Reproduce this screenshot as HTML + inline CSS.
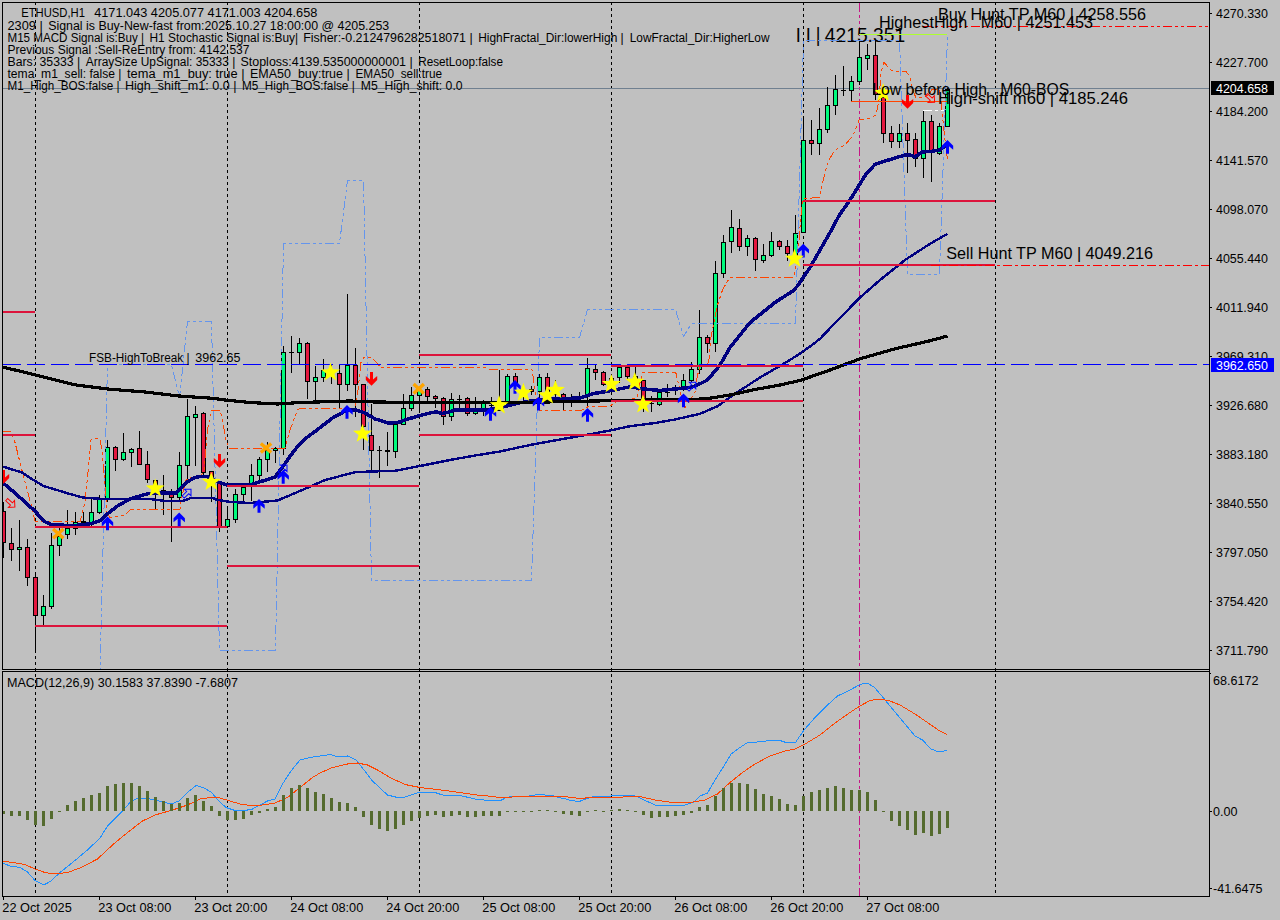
<!DOCTYPE html>
<html><head><meta charset="utf-8"><title>ETHUSD,H1</title>
<style>html,body{margin:0;padding:0;background:#C0C0C0;overflow:hidden}svg{display:block}text{font-family:"Liberation Sans",sans-serif;fill:#000}</style></head><body>
<svg width="1280" height="920" viewBox="0 0 1280 920">
<rect x="0" y="0" width="1280" height="920" fill="#C0C0C0"/>
<defs><clipPath id="cm"><rect x="3" y="3" width="1206" height="666"/></clipPath><clipPath id="cs"><rect x="3" y="672" width="1206" height="224"/></clipPath></defs>
<g clip-path="url(#cm)" shape-rendering="crispEdges">
<line x1="35.5" y1="2" x2="35.5" y2="669" stroke="#000" stroke-width="1" stroke-dasharray="3 3"/>
<line x1="227.5" y1="2" x2="227.5" y2="669" stroke="#000" stroke-width="1" stroke-dasharray="3 3"/>
<line x1="419.5" y1="2" x2="419.5" y2="669" stroke="#000" stroke-width="1" stroke-dasharray="3 3"/>
<line x1="611.5" y1="2" x2="611.5" y2="669" stroke="#000" stroke-width="1" stroke-dasharray="3 3"/>
<line x1="803.5" y1="2" x2="803.5" y2="669" stroke="#000" stroke-width="1" stroke-dasharray="3 3"/>
<line x1="995.5" y1="2" x2="995.5" y2="669" stroke="#000" stroke-width="1" stroke-dasharray="3 3"/>
<line x1="859.5" y1="3" x2="859.5" y2="669" stroke="#C71585" stroke-width="1" stroke-dasharray="9 3 3 3 3 3"/>
<line x1="3" y1="88.5" x2="1209" y2="88.5" stroke="#708090" stroke-width="1"/>
<rect x="3" y="502" width="1" height="56" fill="#000"/>
<rect x="1" y="511" width="5" height="32" fill="#000"/>
<rect x="2" y="512" width="3" height="30" fill="#E3183F"/>
<rect x="11" y="528" width="1" height="33" fill="#000"/>
<rect x="9" y="543" width="5" height="7" fill="#000"/>
<rect x="10" y="544" width="3" height="5" fill="#E3183F"/>
<rect x="19" y="520" width="1" height="51" fill="#000"/>
<rect x="17" y="547" width="5" height="3" fill="#000"/>
<rect x="18" y="548" width="3" height="1" fill="#00FA7D"/>
<rect x="27" y="539" width="1" height="47" fill="#000"/>
<rect x="25" y="547" width="5" height="31" fill="#000"/>
<rect x="26" y="548" width="3" height="29" fill="#E3183F"/>
<rect x="35" y="572" width="1" height="81" fill="#000"/>
<rect x="33" y="577" width="5" height="39" fill="#000"/>
<rect x="34" y="578" width="3" height="37" fill="#E3183F"/>
<rect x="43" y="595" width="1" height="31" fill="#000"/>
<rect x="41" y="606" width="5" height="10" fill="#000"/>
<rect x="42" y="607" width="3" height="8" fill="#00FA7D"/>
<rect x="51" y="533" width="1" height="76" fill="#000"/>
<rect x="49" y="545" width="5" height="62" fill="#000"/>
<rect x="50" y="546" width="3" height="60" fill="#00FA7D"/>
<rect x="59" y="527" width="1" height="29" fill="#000"/>
<rect x="57" y="536" width="5" height="10" fill="#000"/>
<rect x="58" y="537" width="3" height="8" fill="#00FA7D"/>
<rect x="67" y="510" width="1" height="29" fill="#000"/>
<rect x="65" y="528" width="5" height="7" fill="#000"/>
<rect x="66" y="529" width="3" height="5" fill="#00FA7D"/>
<rect x="75" y="512" width="1" height="23" fill="#000"/>
<rect x="73" y="522" width="5" height="7" fill="#000"/>
<rect x="74" y="523" width="3" height="5" fill="#00FA7D"/>
<rect x="83" y="512" width="1" height="14" fill="#000"/>
<rect x="81" y="521" width="5" height="2" fill="#000"/>
<rect x="91" y="499" width="1" height="27" fill="#000"/>
<rect x="89" y="512" width="5" height="11" fill="#000"/>
<rect x="90" y="513" width="3" height="9" fill="#00FA7D"/>
<rect x="99" y="495" width="1" height="19" fill="#000"/>
<rect x="97" y="498" width="5" height="15" fill="#000"/>
<rect x="98" y="499" width="3" height="13" fill="#00FA7D"/>
<rect x="107" y="440" width="1" height="62" fill="#000"/>
<rect x="105" y="447" width="5" height="52" fill="#000"/>
<rect x="106" y="448" width="3" height="50" fill="#00FA7D"/>
<rect x="115" y="446" width="1" height="25" fill="#000"/>
<rect x="113" y="447" width="5" height="13" fill="#000"/>
<rect x="114" y="448" width="3" height="11" fill="#E3183F"/>
<rect x="123" y="433" width="1" height="28" fill="#000"/>
<rect x="121" y="452" width="5" height="8" fill="#000"/>
<rect x="122" y="453" width="3" height="6" fill="#00FA7D"/>
<rect x="131" y="448" width="1" height="19" fill="#000"/>
<rect x="129" y="449" width="5" height="4" fill="#000"/>
<rect x="130" y="450" width="3" height="2" fill="#00FA7D"/>
<rect x="139" y="431" width="1" height="34" fill="#000"/>
<rect x="137" y="448" width="5" height="17" fill="#000"/>
<rect x="138" y="449" width="3" height="15" fill="#E3183F"/>
<rect x="147" y="451" width="1" height="32" fill="#000"/>
<rect x="145" y="464" width="5" height="16" fill="#000"/>
<rect x="146" y="465" width="3" height="14" fill="#E3183F"/>
<rect x="155" y="480" width="1" height="30" fill="#000"/>
<rect x="153" y="480" width="5" height="9" fill="#000"/>
<rect x="154" y="481" width="3" height="7" fill="#E3183F"/>
<rect x="163" y="475" width="1" height="40" fill="#000"/>
<rect x="161" y="490" width="5" height="5" fill="#000"/>
<rect x="162" y="491" width="3" height="3" fill="#E3183F"/>
<rect x="171" y="489" width="1" height="53" fill="#000"/>
<rect x="169" y="493" width="5" height="5" fill="#000"/>
<rect x="170" y="494" width="3" height="3" fill="#E3183F"/>
<rect x="179" y="452" width="1" height="50" fill="#000"/>
<rect x="177" y="465" width="5" height="33" fill="#000"/>
<rect x="178" y="466" width="3" height="31" fill="#00FA7D"/>
<rect x="187" y="399" width="1" height="81" fill="#000"/>
<rect x="185" y="416" width="5" height="50" fill="#000"/>
<rect x="186" y="417" width="3" height="48" fill="#00FA7D"/>
<rect x="195" y="406" width="1" height="60" fill="#000"/>
<rect x="193" y="414" width="5" height="4" fill="#000"/>
<rect x="194" y="415" width="3" height="2" fill="#00FA7D"/>
<rect x="203" y="412" width="1" height="66" fill="#000"/>
<rect x="201" y="413" width="5" height="60" fill="#000"/>
<rect x="202" y="414" width="3" height="58" fill="#E3183F"/>
<rect x="211" y="471" width="1" height="31" fill="#000"/>
<rect x="209" y="471" width="5" height="9" fill="#000"/>
<rect x="210" y="472" width="3" height="7" fill="#E3183F"/>
<rect x="219" y="483" width="1" height="49" fill="#000"/>
<rect x="217" y="483" width="5" height="44" fill="#000"/>
<rect x="218" y="484" width="3" height="42" fill="#E3183F"/>
<rect x="227" y="506" width="1" height="22" fill="#000"/>
<rect x="225" y="519" width="5" height="8" fill="#000"/>
<rect x="226" y="520" width="3" height="6" fill="#00FA7D"/>
<rect x="235" y="489" width="1" height="34" fill="#000"/>
<rect x="233" y="494" width="5" height="26" fill="#000"/>
<rect x="234" y="495" width="3" height="24" fill="#00FA7D"/>
<rect x="243" y="484" width="1" height="17" fill="#000"/>
<rect x="241" y="487" width="5" height="8" fill="#000"/>
<rect x="242" y="488" width="3" height="6" fill="#00FA7D"/>
<rect x="251" y="464" width="1" height="37" fill="#000"/>
<rect x="249" y="475" width="5" height="10" fill="#000"/>
<rect x="250" y="476" width="3" height="8" fill="#00FA7D"/>
<rect x="259" y="457" width="1" height="25" fill="#000"/>
<rect x="257" y="459" width="5" height="17" fill="#000"/>
<rect x="258" y="460" width="3" height="15" fill="#00FA7D"/>
<rect x="267" y="442" width="1" height="30" fill="#000"/>
<rect x="265" y="450" width="5" height="10" fill="#000"/>
<rect x="266" y="451" width="3" height="8" fill="#00FA7D"/>
<rect x="275" y="447" width="1" height="16" fill="#000"/>
<rect x="273" y="448" width="5" height="3" fill="#000"/>
<rect x="274" y="449" width="3" height="1" fill="#00FA7D"/>
<rect x="283" y="346" width="1" height="109" fill="#000"/>
<rect x="281" y="352" width="5" height="97" fill="#000"/>
<rect x="282" y="353" width="3" height="95" fill="#00FA7D"/>
<rect x="291" y="336" width="1" height="37" fill="#000"/>
<rect x="289" y="352" width="5" height="1" fill="#000"/>
<rect x="299" y="338" width="1" height="27" fill="#000"/>
<rect x="297" y="343" width="5" height="10" fill="#000"/>
<rect x="298" y="344" width="3" height="8" fill="#00FA7D"/>
<rect x="307" y="342" width="1" height="57" fill="#000"/>
<rect x="305" y="343" width="5" height="39" fill="#000"/>
<rect x="306" y="344" width="3" height="37" fill="#E3183F"/>
<rect x="315" y="366" width="1" height="36" fill="#000"/>
<rect x="313" y="377" width="5" height="5" fill="#000"/>
<rect x="314" y="378" width="3" height="3" fill="#00FA7D"/>
<rect x="323" y="359" width="1" height="23" fill="#000"/>
<rect x="321" y="370" width="5" height="8" fill="#000"/>
<rect x="322" y="371" width="3" height="6" fill="#00FA7D"/>
<rect x="331" y="365" width="1" height="19" fill="#000"/>
<rect x="329" y="372" width="5" height="2" fill="#000"/>
<rect x="339" y="364" width="1" height="45" fill="#000"/>
<rect x="337" y="373" width="5" height="12" fill="#000"/>
<rect x="338" y="374" width="3" height="10" fill="#E3183F"/>
<rect x="347" y="294" width="1" height="97" fill="#000"/>
<rect x="345" y="365" width="5" height="20" fill="#000"/>
<rect x="346" y="366" width="3" height="18" fill="#00FA7D"/>
<rect x="355" y="348" width="1" height="69" fill="#000"/>
<rect x="353" y="365" width="5" height="20" fill="#000"/>
<rect x="354" y="366" width="3" height="18" fill="#E3183F"/>
<rect x="363" y="384" width="1" height="66" fill="#000"/>
<rect x="361" y="384" width="5" height="43" fill="#000"/>
<rect x="362" y="385" width="3" height="41" fill="#E3183F"/>
<rect x="371" y="404" width="1" height="66" fill="#000"/>
<rect x="369" y="435" width="5" height="16" fill="#000"/>
<rect x="370" y="436" width="3" height="14" fill="#E3183F"/>
<rect x="379" y="446" width="1" height="32" fill="#000"/>
<rect x="377" y="450" width="5" height="1" fill="#000"/>
<rect x="387" y="432" width="1" height="34" fill="#000"/>
<rect x="385" y="450" width="5" height="2" fill="#000"/>
<rect x="395" y="424" width="1" height="34" fill="#000"/>
<rect x="393" y="424" width="5" height="28" fill="#000"/>
<rect x="394" y="425" width="3" height="26" fill="#00FA7D"/>
<rect x="403" y="394" width="1" height="31" fill="#000"/>
<rect x="401" y="408" width="5" height="17" fill="#000"/>
<rect x="402" y="409" width="3" height="15" fill="#00FA7D"/>
<rect x="411" y="387" width="1" height="24" fill="#000"/>
<rect x="409" y="395" width="5" height="14" fill="#000"/>
<rect x="410" y="396" width="3" height="12" fill="#00FA7D"/>
<rect x="419" y="386" width="1" height="25" fill="#000"/>
<rect x="417" y="390" width="5" height="6" fill="#000"/>
<rect x="418" y="391" width="3" height="4" fill="#00FA7D"/>
<rect x="427" y="387" width="1" height="15" fill="#000"/>
<rect x="425" y="389" width="5" height="8" fill="#000"/>
<rect x="426" y="390" width="3" height="6" fill="#E3183F"/>
<rect x="435" y="395" width="1" height="13" fill="#000"/>
<rect x="433" y="396" width="5" height="3" fill="#000"/>
<rect x="434" y="397" width="3" height="1" fill="#E3183F"/>
<rect x="443" y="397" width="1" height="28" fill="#000"/>
<rect x="441" y="398" width="5" height="19" fill="#000"/>
<rect x="442" y="399" width="3" height="17" fill="#E3183F"/>
<rect x="451" y="393" width="1" height="28" fill="#000"/>
<rect x="449" y="399" width="5" height="18" fill="#000"/>
<rect x="450" y="400" width="3" height="16" fill="#00FA7D"/>
<rect x="459" y="395" width="1" height="13" fill="#000"/>
<rect x="457" y="399" width="5" height="1" fill="#000"/>
<rect x="467" y="397" width="1" height="19" fill="#000"/>
<rect x="465" y="398" width="5" height="16" fill="#000"/>
<rect x="466" y="399" width="3" height="14" fill="#E3183F"/>
<rect x="475" y="397" width="1" height="18" fill="#000"/>
<rect x="473" y="411" width="5" height="3" fill="#000"/>
<rect x="474" y="412" width="3" height="1" fill="#00FA7D"/>
<rect x="483" y="400" width="1" height="16" fill="#000"/>
<rect x="481" y="403" width="5" height="7" fill="#000"/>
<rect x="482" y="404" width="3" height="5" fill="#00FA7D"/>
<rect x="491" y="397" width="1" height="14" fill="#000"/>
<rect x="489" y="405" width="5" height="1" fill="#000"/>
<rect x="499" y="370" width="1" height="41" fill="#000"/>
<rect x="497" y="401" width="5" height="10" fill="#000"/>
<rect x="498" y="402" width="3" height="8" fill="#00FA7D"/>
<rect x="507" y="374" width="1" height="28" fill="#000"/>
<rect x="505" y="376" width="5" height="26" fill="#000"/>
<rect x="506" y="377" width="3" height="24" fill="#00FA7D"/>
<rect x="515" y="373" width="1" height="18" fill="#000"/>
<rect x="513" y="376" width="5" height="8" fill="#000"/>
<rect x="514" y="377" width="3" height="6" fill="#E3183F"/>
<rect x="523" y="384" width="1" height="18" fill="#000"/>
<rect x="521" y="390" width="5" height="3" fill="#000"/>
<rect x="522" y="391" width="3" height="1" fill="#E3183F"/>
<rect x="531" y="386" width="1" height="9" fill="#000"/>
<rect x="529" y="389" width="5" height="3" fill="#000"/>
<rect x="530" y="390" width="3" height="1" fill="#E3183F"/>
<rect x="539" y="374" width="1" height="37" fill="#000"/>
<rect x="537" y="377" width="5" height="15" fill="#000"/>
<rect x="538" y="378" width="3" height="13" fill="#00FA7D"/>
<rect x="547" y="373" width="1" height="28" fill="#000"/>
<rect x="545" y="377" width="5" height="15" fill="#000"/>
<rect x="546" y="378" width="3" height="13" fill="#E3183F"/>
<rect x="555" y="380" width="1" height="21" fill="#000"/>
<rect x="553" y="391" width="5" height="4" fill="#000"/>
<rect x="554" y="392" width="3" height="2" fill="#E3183F"/>
<rect x="563" y="393" width="1" height="17" fill="#000"/>
<rect x="561" y="394" width="5" height="6" fill="#000"/>
<rect x="562" y="395" width="3" height="4" fill="#E3183F"/>
<rect x="571" y="394" width="1" height="13" fill="#000"/>
<rect x="569" y="399" width="5" height="1" fill="#000"/>
<rect x="579" y="392" width="1" height="9" fill="#000"/>
<rect x="577" y="398" width="5" height="1" fill="#000"/>
<rect x="587" y="358" width="1" height="48" fill="#000"/>
<rect x="585" y="368" width="5" height="27" fill="#000"/>
<rect x="586" y="369" width="3" height="25" fill="#00FA7D"/>
<rect x="595" y="364" width="1" height="16" fill="#000"/>
<rect x="593" y="369" width="5" height="4" fill="#000"/>
<rect x="594" y="370" width="3" height="2" fill="#E3183F"/>
<rect x="603" y="371" width="1" height="15" fill="#000"/>
<rect x="601" y="372" width="5" height="13" fill="#000"/>
<rect x="602" y="373" width="3" height="11" fill="#E3183F"/>
<rect x="611" y="375" width="1" height="18" fill="#000"/>
<rect x="609" y="378" width="5" height="7" fill="#000"/>
<rect x="610" y="379" width="3" height="5" fill="#00FA7D"/>
<rect x="619" y="366" width="1" height="17" fill="#000"/>
<rect x="617" y="367" width="5" height="11" fill="#000"/>
<rect x="618" y="368" width="3" height="9" fill="#00FA7D"/>
<rect x="627" y="366" width="1" height="13" fill="#000"/>
<rect x="625" y="367" width="5" height="10" fill="#000"/>
<rect x="626" y="368" width="3" height="8" fill="#E3183F"/>
<rect x="635" y="367" width="1" height="19" fill="#000"/>
<rect x="633" y="376" width="5" height="5" fill="#000"/>
<rect x="634" y="377" width="3" height="3" fill="#E3183F"/>
<rect x="643" y="380" width="1" height="32" fill="#000"/>
<rect x="641" y="380" width="5" height="21" fill="#000"/>
<rect x="642" y="381" width="3" height="19" fill="#E3183F"/>
<rect x="651" y="396" width="1" height="16" fill="#000"/>
<rect x="649" y="403" width="5" height="1" fill="#000"/>
<rect x="659" y="391" width="1" height="15" fill="#000"/>
<rect x="657" y="392" width="5" height="13" fill="#000"/>
<rect x="658" y="393" width="3" height="11" fill="#00FA7D"/>
<rect x="667" y="384" width="1" height="13" fill="#000"/>
<rect x="665" y="392" width="5" height="1" fill="#000"/>
<rect x="675" y="385" width="1" height="10" fill="#000"/>
<rect x="673" y="389" width="5" height="1" fill="#000"/>
<rect x="683" y="374" width="1" height="17" fill="#000"/>
<rect x="681" y="380" width="5" height="9" fill="#000"/>
<rect x="682" y="381" width="3" height="7" fill="#00FA7D"/>
<rect x="691" y="362" width="1" height="20" fill="#000"/>
<rect x="689" y="369" width="5" height="12" fill="#000"/>
<rect x="690" y="370" width="3" height="10" fill="#00FA7D"/>
<rect x="699" y="310" width="1" height="64" fill="#000"/>
<rect x="697" y="337" width="5" height="33" fill="#000"/>
<rect x="698" y="338" width="3" height="31" fill="#00FA7D"/>
<rect x="707" y="335" width="1" height="18" fill="#000"/>
<rect x="705" y="337" width="5" height="7" fill="#000"/>
<rect x="706" y="338" width="3" height="5" fill="#E3183F"/>
<rect x="715" y="261" width="1" height="91" fill="#000"/>
<rect x="713" y="273" width="5" height="71" fill="#000"/>
<rect x="714" y="274" width="3" height="69" fill="#00FA7D"/>
<rect x="723" y="235" width="1" height="43" fill="#000"/>
<rect x="721" y="242" width="5" height="32" fill="#000"/>
<rect x="722" y="243" width="3" height="30" fill="#00FA7D"/>
<rect x="731" y="210" width="1" height="43" fill="#000"/>
<rect x="729" y="227" width="5" height="15" fill="#000"/>
<rect x="730" y="228" width="3" height="13" fill="#00FA7D"/>
<rect x="739" y="219" width="1" height="32" fill="#000"/>
<rect x="737" y="228" width="5" height="19" fill="#000"/>
<rect x="738" y="229" width="3" height="17" fill="#E3183F"/>
<rect x="747" y="235" width="1" height="21" fill="#000"/>
<rect x="745" y="238" width="5" height="9" fill="#000"/>
<rect x="746" y="239" width="3" height="7" fill="#00FA7D"/>
<rect x="755" y="237" width="1" height="34" fill="#000"/>
<rect x="753" y="238" width="5" height="22" fill="#000"/>
<rect x="754" y="239" width="3" height="20" fill="#E3183F"/>
<rect x="763" y="244" width="1" height="19" fill="#000"/>
<rect x="761" y="255" width="5" height="6" fill="#000"/>
<rect x="762" y="256" width="3" height="4" fill="#00FA7D"/>
<rect x="771" y="232" width="1" height="25" fill="#000"/>
<rect x="769" y="241" width="5" height="15" fill="#000"/>
<rect x="770" y="242" width="3" height="13" fill="#00FA7D"/>
<rect x="779" y="240" width="1" height="10" fill="#000"/>
<rect x="777" y="241" width="5" height="6" fill="#000"/>
<rect x="778" y="242" width="3" height="4" fill="#E3183F"/>
<rect x="787" y="240" width="1" height="21" fill="#000"/>
<rect x="785" y="246" width="5" height="8" fill="#000"/>
<rect x="786" y="247" width="3" height="6" fill="#E3183F"/>
<rect x="795" y="215" width="1" height="48" fill="#000"/>
<rect x="793" y="233" width="5" height="25" fill="#000"/>
<rect x="794" y="234" width="3" height="23" fill="#00FA7D"/>
<rect x="803" y="116" width="1" height="117" fill="#000"/>
<rect x="801" y="140" width="5" height="93" fill="#000"/>
<rect x="802" y="141" width="3" height="91" fill="#00FA7D"/>
<rect x="811" y="120" width="1" height="35" fill="#000"/>
<rect x="809" y="140" width="5" height="4" fill="#000"/>
<rect x="810" y="141" width="3" height="2" fill="#E3183F"/>
<rect x="819" y="108" width="1" height="47" fill="#000"/>
<rect x="817" y="129" width="5" height="15" fill="#000"/>
<rect x="818" y="130" width="3" height="13" fill="#00FA7D"/>
<rect x="827" y="87" width="1" height="46" fill="#000"/>
<rect x="825" y="105" width="5" height="25" fill="#000"/>
<rect x="826" y="106" width="3" height="23" fill="#00FA7D"/>
<rect x="835" y="75" width="1" height="40" fill="#000"/>
<rect x="833" y="89" width="5" height="17" fill="#000"/>
<rect x="834" y="90" width="3" height="15" fill="#00FA7D"/>
<rect x="843" y="66" width="1" height="30" fill="#000"/>
<rect x="841" y="90" width="5" height="1" fill="#000"/>
<rect x="851" y="76" width="1" height="26" fill="#000"/>
<rect x="849" y="81" width="5" height="10" fill="#000"/>
<rect x="850" y="82" width="3" height="8" fill="#00FA7D"/>
<rect x="859" y="41" width="1" height="44" fill="#000"/>
<rect x="857" y="57" width="5" height="25" fill="#000"/>
<rect x="858" y="58" width="3" height="23" fill="#00FA7D"/>
<rect x="867" y="44" width="1" height="26" fill="#000"/>
<rect x="865" y="55" width="5" height="4" fill="#000"/>
<rect x="866" y="56" width="3" height="2" fill="#00FA7D"/>
<rect x="875" y="41" width="1" height="59" fill="#000"/>
<rect x="873" y="55" width="5" height="40" fill="#000"/>
<rect x="874" y="56" width="3" height="38" fill="#E3183F"/>
<rect x="883" y="96" width="1" height="47" fill="#000"/>
<rect x="881" y="97" width="5" height="37" fill="#000"/>
<rect x="882" y="98" width="3" height="35" fill="#E3183F"/>
<rect x="891" y="126" width="1" height="22" fill="#000"/>
<rect x="889" y="133" width="5" height="9" fill="#000"/>
<rect x="890" y="134" width="3" height="7" fill="#E3183F"/>
<rect x="899" y="124" width="1" height="24" fill="#000"/>
<rect x="897" y="133" width="5" height="9" fill="#000"/>
<rect x="898" y="134" width="3" height="7" fill="#00FA7D"/>
<rect x="907" y="123" width="1" height="50" fill="#000"/>
<rect x="905" y="133" width="5" height="8" fill="#000"/>
<rect x="906" y="134" width="3" height="6" fill="#E3183F"/>
<rect x="915" y="133" width="1" height="34" fill="#000"/>
<rect x="913" y="139" width="5" height="20" fill="#000"/>
<rect x="914" y="140" width="3" height="18" fill="#E3183F"/>
<rect x="923" y="111" width="1" height="67" fill="#000"/>
<rect x="921" y="121" width="5" height="38" fill="#000"/>
<rect x="922" y="122" width="3" height="36" fill="#00FA7D"/>
<rect x="931" y="115" width="1" height="67" fill="#000"/>
<rect x="929" y="121" width="5" height="32" fill="#000"/>
<rect x="930" y="122" width="3" height="30" fill="#E3183F"/>
<rect x="939" y="123" width="1" height="32" fill="#000"/>
<rect x="937" y="126" width="5" height="28" fill="#000"/>
<rect x="938" y="127" width="3" height="26" fill="#00FA7D"/>
<rect x="947" y="88" width="1" height="39" fill="#000"/>
<rect x="945" y="89" width="5" height="38" fill="#000"/>
<rect x="946" y="90" width="3" height="36" fill="#00FA7D"/>
</g><g clip-path="url(#cm)">
<text xml:space="preserve" x="795.7" y="42.0" font-size="20.5" textLength="24.8" lengthAdjust="spacingAndGlyphs">I I |</text>
<text xml:space="preserve" x="824.8" y="42.0" font-size="20.5" textLength="80.3" lengthAdjust="spacingAndGlyphs">4215.351</text>
</g><g clip-path="url(#cm)" shape-rendering="crispEdges">
<polyline fill="none" stroke="#6495ED" stroke-width="1" stroke-dasharray="9 3 3 3 3 3" points="91.5,692.5 99.5,692.5 107.5,364.5 115.5,364.5 123.5,364.5 131.5,364.5 139.5,364.5 147.5,364.5 155.5,364.5 163.5,364.5 171.5,364.5 179.5,397.5 187.5,321.5 195.5,321.5 203.5,321.5 211.5,321.5 219.5,650.5 227.5,650.5 235.5,650.5 243.5,650.5 251.5,650.5 259.5,650.5 267.5,650.5 275.5,650.5 283.5,243.5 291.5,243.5 299.5,243.5 307.5,243.5 315.5,243.5 323.5,243.5 331.5,243.5 339.5,243.5 347.5,180.5 355.5,180.5 363.5,180.5 371.5,580.5 379.5,580.5 387.5,580.5 395.5,580.5 403.5,580.5 411.5,580.5 419.5,580.5 427.5,580.5 435.5,580.5 443.5,580.5 451.5,580.5 459.5,580.5 467.5,580.5 475.5,580.5 483.5,580.5 491.5,580.5 499.5,580.5 507.5,580.5 515.5,580.5 523.5,580.5 531.5,580.5 539.5,337.5 547.5,337.5 555.5,337.5 563.5,337.5 571.5,337.5 579.5,337.5 587.5,309.5 595.5,309.5 603.5,309.5 611.5,309.5 619.5,309.5 627.5,309.5 635.5,309.5 643.5,309.5 651.5,309.5 659.5,309.5 667.5,309.5 675.5,309.5 683.5,336.5 691.5,323.5 699.5,323.5 707.5,323.5 715.5,323.5 723.5,323.5 731.5,323.5 739.5,323.5 747.5,323.5 755.5,323.5 763.5,323.5 771.5,323.5 779.5,323.5 787.5,323.5 795.5,323.5 803.5,40.5 811.5,40.5 819.5,40.5 827.5,40.5 835.5,40.5 843.5,40.5 851.5,40.5 859.5,40.5 867.5,40.5 875.5,40.5 883.5,40.5 891.5,40.5 899.5,40.5 907.5,274.5 915.5,274.5 923.5,274.5 931.5,274.5 939.5,274.5 947.5,35.5"/>
<polyline fill="none" stroke="#FF4500" stroke-width="1" stroke-dasharray="9 3 3 3 3 3" points="2.5,431.0 11.0,431.0 15.0,442.5 22.5,472.5 32.5,510.0 35.0,521.0 80.0,522.0 85.0,502.5 87.5,477.5 91.0,440.0 92.5,438.8 100.0,438.8 102.5,455.0 106.0,497.5 107.0,513.0 110.0,517.5 125.0,515.0 130.0,510.0 160.0,509.0 180.0,509.0 181.0,500.0 186.0,480.0 190.0,477.5 200.0,477.5 204.0,470.0 207.5,430.0 211.0,411.0 220.0,410.0 222.5,420.0 226.0,440.0 229.0,448.0 285.0,448.0 290.0,430.0 297.5,410.0 300.0,408.5 355.0,408.5 357.5,395.0 361.0,362.5 364.0,357.5 372.5,358.0 379.0,365.5 380.0,367.5 485.0,367.5 490.0,369.5 532.0,369.5 534.0,382.5 536.0,395.0 540.0,410.5 580.0,411.0 587.5,407.0 610.0,406.0 617.5,401.0 637.5,397.5 640.0,382.5 642.5,373.0 644.0,372.5 675.8,372.5 677.5,380.0 680.0,390.0 684.0,409.0 690.0,400.0 695.0,392.5 697.5,375.0 700.0,367.5 707.5,365.5 709.0,359.0 711.0,337.5 714.0,322.5 717.5,305.0 722.5,290.0 727.5,281.0 731.0,277.5 794.0,277.5 795.5,270.0 799.0,240.0 801.0,215.0 802.5,200.0 805.0,198.5 819.0,197.5 821.0,190.0 825.0,172.5 829.0,160.0 835.0,150.0 845.0,145.0 852.5,136.0 857.5,125.0 859.0,120.0 870.0,118.0 876.0,115.0 879.0,100.0 881.0,72.5 884.0,62.5 890.0,69.0 892.5,71.0 906.0,71.3 909.8,76.5 911.0,82.4 914.0,92.8 915.7,97.4 919.6,97.4 924.0,97.0 928.7,94.8 932.0,89.6 939.1,89.6 939.8,91.5 941.1,102.6 942.4,115.0 943.7,128.0 945.0,140.0 947.5,160.0"/>
<polyline fill="none" stroke="#000080" stroke-width="2.4" stroke-linejoin="round" points="2.5,466.5 21.7,472.4 35.0,481.0 43.5,486.0 60.0,491.0 70.0,494.0 82.5,497.5 100.0,498.8 130.0,498.8 147.6,498.8 162.8,500.7 182.6,501.1 191.7,497.7 212.3,497.7 216.0,499.6 229.8,501.9 250.0,503.0 277.5,500.5 300.0,491.0 325.0,480.0 356.0,472.0 395.0,470.8 425.0,465.0 450.0,460.0 475.0,455.5 500.0,451.5 530.0,445.0 560.0,439.5 592.5,433.8 610.0,430.5 630.0,426.2 655.0,423.0 675.0,419.5 700.0,413.8 717.5,406.2 735.0,393.8 760.0,377.5 790.0,360.0 800.0,353.5 810.0,346.5 820.0,338.8 835.0,323.0 860.0,297.5 880.0,280.0 905.0,260.0 930.0,243.8 947.5,233.8"/>
<polyline fill="none" stroke="#000080" stroke-width="3.5" stroke-linejoin="round" points="2.5,482.5 15.0,493.0 25.0,502.0 34.8,511.0 44.3,521.5 52.5,525.0 75.0,525.5 90.0,523.8 100.0,520.8 107.5,513.8 117.5,506.0 130.0,498.8 147.5,493.8 160.0,493.0 176.5,493.0 185.7,482.8 194.8,477.5 200.9,476.4 207.0,476.4 212.0,478.5 217.6,482.0 227.5,485.0 250.0,485.0 275.0,477.0 284.0,465.0 291.0,455.0 298.8,444.8 306.8,437.5 316.3,430.5 322.0,426.0 332.6,418.0 347.3,409.9 355.4,409.9 365.2,413.2 375.0,418.9 388.0,422.9 397.8,422.6 409.8,418.5 419.6,415.6 429.4,413.1 436.2,411.8 442.1,413.4 448.9,412.1 455.8,409.9 468.5,409.9 486.1,409.9 493.9,408.7 505.7,406.3 520.0,402.8 530.0,401.0 555.0,398.8 580.0,398.0 592.5,393.8 610.0,390.8 630.0,386.8 642.5,388.8 660.0,390.5 675.0,389.0 690.0,387.5 695.0,386.2 707.5,380.0 720.0,365.0 730.0,347.5 750.0,322.5 775.0,302.5 792.5,291.2 797.5,286.0 810.0,267.5 830.0,232.5 839.4,215.0 850.0,200.0 860.0,183.8 866.2,173.8 875.0,164.4 882.5,161.9 895.0,158.0 905.0,155.0 910.0,155.0 915.0,156.9 922.5,151.9 932.5,151.2 940.0,150.0 945.0,146.0 947.5,145.0"/>
<polyline fill="none" stroke="#000" stroke-width="3.2" stroke-linejoin="round" points="2.5,367.0 35.0,374.8 75.0,384.8 107.5,389.0 145.0,392.0 179.0,396.0 212.5,398.3 227.5,400.3 250.0,402.5 277.5,404.0 300.0,402.5 350.0,401.0 375.0,402.0 425.0,402.5 520.0,402.5 605.0,400.8 705.0,399.0 730.0,395.0 755.0,389.5 780.0,385.0 800.0,380.5 830.0,370.0 860.0,358.8 895.0,348.8 930.0,340.8 947.5,336.0"/>
<rect x="3" y="311" width="32" height="2" fill="#DC143C"/>
<rect x="3" y="434" width="32" height="2" fill="#DC143C"/>
<rect x="35" y="526" width="192" height="2" fill="#DC143C"/>
<rect x="35" y="625" width="192" height="2" fill="#DC143C"/>
<rect x="227" y="485" width="192" height="2" fill="#DC143C"/>
<rect x="227" y="565" width="192" height="2" fill="#DC143C"/>
<rect x="419" y="354" width="192" height="2" fill="#DC143C"/>
<rect x="419" y="434" width="192" height="2" fill="#DC143C"/>
<rect x="611" y="365" width="192" height="2" fill="#DC143C"/>
<rect x="611" y="400" width="192" height="2" fill="#DC143C"/>
<rect x="803" y="200" width="192" height="2" fill="#DC143C"/>
<rect x="803" y="264" width="192" height="2" fill="#DC143C"/>
<line x1="3" y1="364.5" x2="1209" y2="364.5" stroke="#0000FF" stroke-width="1" stroke-dasharray="18 6"/>
<line x1="923" y1="26.5" x2="1209" y2="26.5" stroke="#FF0000" stroke-width="1" stroke-dasharray="9 3 3 3 3 3"/>
<line x1="931" y1="265.5" x2="1209" y2="265.5" stroke="#FF0000" stroke-width="1" stroke-dasharray="9 3 3 3"/>
<line x1="859" y1="34.5" x2="947" y2="34.5" stroke="#ADFF2F" stroke-width="1"/>
<line x1="851" y1="101.5" x2="947" y2="101.5" stroke="#FF4500" stroke-width="1"/>
<line x1="923" y1="110.5" x2="944" y2="110.5" stroke="#FFFFFF" stroke-width="1" stroke-dasharray="9 3 3 3 3 3"/>
</g>
<g clip-path="url(#cm)">
<path d="M53.1 529.1 L63.5 538.3 M63.5 529.1 L53.1 538.3" stroke="#FFA500" stroke-width="3.4" stroke-linecap="butt" fill="none"/>
<path d="M260.8 443.4 L271.2 452.6 M271.2 443.4 L260.8 452.6" stroke="#FFA500" stroke-width="3.4" stroke-linecap="butt" fill="none"/>
<path d="M413.6 384.1 L423.9 393.4 M423.9 384.1 L413.6 393.4" stroke="#FFA500" stroke-width="3.4" stroke-linecap="butt" fill="none"/>
<g transform="translate(14.9 507.0) rotate(42)"><path d="M-11.00 -1.50 L-4.60 -1.50 L-4.60 -4.60 L0 0 L-4.60 4.60 L-4.60 1.50 L-11.00 1.50 Z" fill="none" stroke="#FF0000" stroke-width="1"/></g>
<g transform="translate(191.0 489.3) rotate(-45)"><path d="M-11.00 -1.50 L-4.60 -1.50 L-4.60 -4.60 L0 0 L-4.60 4.60 L-4.60 1.50 L-11.00 1.50 Z" fill="none" stroke="#0000FF" stroke-width="1"/></g>
<g transform="translate(287.0 465.0) rotate(-45)"><path d="M-11.00 -1.50 L-4.60 -1.50 L-4.60 -4.60 L0 0 L-4.60 4.60 L-4.60 1.50 L-11.00 1.50 Z" fill="none" stroke="#0000FF" stroke-width="1"/></g>
<g transform="translate(695.8 382.3) rotate(-45)"><path d="M-11.00 -1.50 L-4.60 -1.50 L-4.60 -4.60 L0 0 L-4.60 4.60 L-4.60 1.50 L-11.00 1.50 Z" fill="none" stroke="#0000FF" stroke-width="1"/></g>
<g transform="translate(934.6 102.2) rotate(42)"><path d="M-11.00 -1.50 L-4.60 -1.50 L-4.60 -4.60 L0 0 L-4.60 4.60 L-4.60 1.50 L-11.00 1.50 Z" fill="none" stroke="#FF0000" stroke-width="1"/></g>
<polygon points="106.0,530.2 109.0,530.2 109.0,522.7 113.2,526.2 113.2,522.2 107.5,516.5 101.8,522.2 101.8,526.2 106.0,522.7" fill="#0000FF"/>
<polygon points="177.7,526.2 180.7,526.2 180.7,518.7 184.9,522.2 184.9,518.2 179.2,512.5 173.5,518.2 173.5,522.2 177.7,518.7" fill="#0000FF"/>
<polygon points="257.5,512.7 260.5,512.7 260.5,505.2 264.7,508.7 264.7,504.7 259.0,499.0 253.3,504.7 253.3,508.7 257.5,505.2" fill="#0000FF"/>
<polygon points="281.7,483.7 284.7,483.7 284.7,476.2 288.9,479.7 288.9,475.7 283.2,470.0 277.5,475.7 277.5,479.7 281.7,476.2" fill="#0000FF"/>
<polygon points="345.5,418.7 348.5,418.7 348.5,411.2 352.7,414.7 352.7,410.7 347.0,405.0 341.3,410.7 341.3,414.7 345.5,411.2" fill="#0000FF"/>
<polygon points="489.0,420.7 492.0,420.7 492.0,413.2 496.2,416.7 496.2,412.7 490.5,407.0 484.8,412.7 484.8,416.7 489.0,413.2" fill="#0000FF"/>
<polygon points="513.5,393.7 516.5,393.7 516.5,386.2 520.7,389.7 520.7,385.7 515.0,380.0 509.3,385.7 509.3,389.7 513.5,386.2" fill="#0000FF"/>
<polygon points="537.0,410.4 540.0,410.4 540.0,402.9 544.2,406.4 544.2,402.4 538.5,396.7 532.8,402.4 532.8,406.4 537.0,402.9" fill="#0000FF"/>
<polygon points="586.0,421.7 589.0,421.7 589.0,414.2 593.2,417.7 593.2,413.7 587.5,408.0 581.8,413.7 581.8,417.7 586.0,414.2" fill="#0000FF"/>
<polygon points="682.0,407.3 685.0,407.3 685.0,399.8 689.2,403.3 689.2,399.3 683.5,393.6 677.8,399.3 677.8,403.3 682.0,399.8" fill="#0000FF"/>
<polygon points="801.8,257.4 804.8,257.4 804.8,249.9 809.0,253.4 809.0,249.4 803.3,243.7 797.6,249.4 797.6,253.4 801.8,249.9" fill="#0000FF"/>
<polygon points="946.0,153.7 949.0,153.7 949.0,146.2 953.2,149.7 953.2,145.7 947.5,140.0 941.8,145.7 941.8,149.7 946.0,146.2" fill="#0000FF"/>
<polygon points="2.0,470.0 5.0,470.0 5.0,477.5 9.2,474.0 9.2,478.0 3.5,483.7 -2.2,478.0 -2.2,474.0 2.0,477.5" fill="#FF0000"/>
<polygon points="218.0,454.0 221.0,454.0 221.0,461.5 225.2,458.0 225.2,462.0 219.5,467.7 213.8,462.0 213.8,458.0 218.0,461.5" fill="#FF0000"/>
<polygon points="370.0,372.0 373.0,372.0 373.0,379.5 377.2,376.0 377.2,380.0 371.5,385.7 365.8,380.0 365.8,376.0 370.0,379.5" fill="#FF0000"/>
<polygon points="906.0,95.0 909.0,95.0 909.0,102.5 913.2,99.0 913.2,103.0 907.5,108.7 901.8,103.0 901.8,99.0 906.0,102.5" fill="#FF0000"/>
<polygon points="155.2,478.5 157.6,485.2 164.7,485.4 159.1,489.8 161.1,496.6 155.2,492.6 149.3,496.6 151.3,489.8 145.7,485.4 152.8,485.2" fill="#FFFF00"/>
<polygon points="211.3,472.0 213.7,478.7 220.8,478.9 215.2,483.3 217.2,490.1 211.3,486.1 205.4,490.1 207.4,483.3 201.8,478.9 208.9,478.7" fill="#FFFF00"/>
<polygon points="330.5,362.5 332.9,369.2 340.0,369.4 334.4,373.8 336.4,380.6 330.5,376.6 324.6,380.6 326.6,373.8 321.0,369.4 328.1,369.2" fill="#FFFF00"/>
<polygon points="362.5,423.8 364.9,430.4 372.0,430.7 366.4,435.0 368.4,441.8 362.5,437.9 356.6,441.8 358.6,435.0 353.0,430.7 360.1,430.4" fill="#FFFF00"/>
<polygon points="499.1,395.3 501.5,402.0 508.6,402.2 503.0,406.6 505.0,413.4 499.1,409.4 493.2,413.4 495.2,406.6 489.6,402.2 496.7,402.0" fill="#FFFF00"/>
<polygon points="523.4,382.8 525.8,389.5 532.9,389.7 527.3,394.1 529.3,400.9 523.4,396.9 517.5,400.9 519.5,394.1 513.9,389.7 521.0,389.5" fill="#FFFF00"/>
<polygon points="547.2,385.5 549.6,392.2 556.7,392.4 551.1,396.8 553.1,403.6 547.2,399.6 541.3,403.6 543.3,396.8 537.7,392.4 544.8,392.2" fill="#FFFF00"/>
<polygon points="555.4,380.0 557.8,386.7 564.9,386.9 559.3,391.3 561.3,398.1 555.4,394.1 549.5,398.1 551.5,391.3 545.9,386.9 553.0,386.7" fill="#FFFF00"/>
<polygon points="611.4,374.2 613.8,380.9 620.9,381.1 615.3,385.5 617.3,392.3 611.4,388.3 605.5,392.3 607.5,385.5 601.9,381.1 609.0,380.9" fill="#FFFF00"/>
<polygon points="634.8,371.9 637.2,378.6 644.3,378.8 638.7,383.2 640.7,390.0 634.8,386.0 628.9,390.0 630.9,383.2 625.3,378.8 632.4,378.6" fill="#FFFF00"/>
<polygon points="643.0,394.4 645.4,401.1 652.5,401.3 646.9,405.7 648.9,412.5 643.0,408.5 637.1,412.5 639.1,405.7 633.5,401.3 640.6,401.1" fill="#FFFF00"/>
<polygon points="794.5,248.8 796.9,255.4 804.0,255.7 798.4,260.0 800.4,266.8 794.5,262.9 788.6,266.8 790.6,260.0 785.0,255.7 792.1,255.4" fill="#FFFF00"/>
<polygon points="883.1,83.0 885.5,89.7 892.6,89.9 887.0,94.3 889.0,101.1 883.1,97.1 877.2,101.1 879.2,94.3 873.6,89.9 880.7,89.7" fill="#FFFF00"/>
</g>
<g clip-path="url(#cm)">
<text xml:space="preserve" x="21.2" y="17.0" font-size="12" textLength="63.8" lengthAdjust="spacingAndGlyphs">ETHUSD,H1</text>
<text xml:space="preserve" x="94.2" y="17.0" font-size="12" textLength="223.2" lengthAdjust="spacingAndGlyphs">4171.043 4205.077 4171.003 4204.658</text>
<text xml:space="preserve" x="7.5" y="30.0" font-size="12" textLength="35.2" lengthAdjust="spacingAndGlyphs">2309 |</text>
<text xml:space="preserve" x="48.2" y="30.0" font-size="12" textLength="341.0" lengthAdjust="spacingAndGlyphs">Signal is Buy-New-fast from:2025.10.27 18:00:00 @ 4205.253</text>
<text xml:space="preserve" x="7.5" y="42.0" font-size="12" textLength="136.5" lengthAdjust="spacingAndGlyphs">M15 MACD Signal is:Buy |</text>
<text xml:space="preserve" x="149.5" y="42.0" font-size="12" textLength="148.6" lengthAdjust="spacingAndGlyphs">H1 Stochastic Signal is:Buy|</text>
<text xml:space="preserve" x="303.2" y="42.0" font-size="12" textLength="169.5" lengthAdjust="spacingAndGlyphs">Fisher:-0.2124796282518071 |</text>
<text xml:space="preserve" x="478.2" y="42.0" font-size="12" textLength="145.5" lengthAdjust="spacingAndGlyphs">HighFractal_Dir:lowerHigh |</text>
<text xml:space="preserve" x="629.7" y="42.0" font-size="12" textLength="139.8" lengthAdjust="spacingAndGlyphs">LowFractal_Dir:HigherLow</text>
<text xml:space="preserve" x="7.5" y="54.0" font-size="12" textLength="242.0" lengthAdjust="spacingAndGlyphs">Previous Signal :Sell-ReEntry from: 4142.537</text>
<text xml:space="preserve" x="7.5" y="66.0" font-size="12" textLength="72.7" lengthAdjust="spacingAndGlyphs">Bars: 35333 |</text>
<text xml:space="preserve" x="85.8" y="66.0" font-size="12" textLength="149.5" lengthAdjust="spacingAndGlyphs">ArraySize UpSignal: 35333 |</text>
<text xml:space="preserve" x="240.5" y="66.0" font-size="12" textLength="172.2" lengthAdjust="spacingAndGlyphs">Stoploss:4139.535000000001 |</text>
<text xml:space="preserve" x="418.2" y="66.0" font-size="12" textLength="84.8" lengthAdjust="spacingAndGlyphs">ResetLoop:false</text>
<text xml:space="preserve" x="7.5" y="78.0" font-size="12" textLength="114.0" lengthAdjust="spacingAndGlyphs">tema_m1_sell: false |</text>
<text xml:space="preserve" x="127.0" y="78.0" font-size="12" textLength="117.5" lengthAdjust="spacingAndGlyphs">tema_m1_buy: true |</text>
<text xml:space="preserve" x="250.0" y="78.0" font-size="12" textLength="99.7" lengthAdjust="spacingAndGlyphs">EMA50_buy:true |</text>
<text xml:space="preserve" x="355.5" y="78.0" font-size="12" textLength="86.5" lengthAdjust="spacingAndGlyphs">EMA50_sell:true</text>
<text xml:space="preserve" x="7.5" y="90.0" font-size="12" textLength="112.0" lengthAdjust="spacingAndGlyphs">M1_High_BOS:false |</text>
<text xml:space="preserve" x="125.0" y="90.0" font-size="12" textLength="111.5" lengthAdjust="spacingAndGlyphs">High_shift_m1: 0.0 |</text>
<text xml:space="preserve" x="242.0" y="90.0" font-size="12" textLength="112.7" lengthAdjust="spacingAndGlyphs">M5_High_BOS:false |</text>
<text xml:space="preserve" x="360.8" y="90.0" font-size="12" textLength="101.8" lengthAdjust="spacingAndGlyphs">M5_High_shift: 0.0</text>
<text xml:space="preserve" x="89.0" y="362.0" font-size="12" textLength="100.5" lengthAdjust="spacingAndGlyphs">FSB-HighToBreak |</text>
<text xml:space="preserve" x="195.3" y="362.0" font-size="12" textLength="45.2" lengthAdjust="spacingAndGlyphs">3962.65</text>
<text xml:space="preserve" x="938.0" y="20.0" font-size="16.6" textLength="208.0" lengthAdjust="spacingAndGlyphs">Buy Hunt TP M60 | 4258.556</text>
<text xml:space="preserve" x="879.0" y="28.0" font-size="16.6" textLength="214.0" lengthAdjust="spacingAndGlyphs">HighestHigh   M60 | 4251.453</text>
<text xml:space="preserve" x="872.3" y="95.0" font-size="16.6" textLength="197.0" lengthAdjust="spacingAndGlyphs">Low before High   M60-BOS</text>
<text xml:space="preserve" x="938.0" y="104.0" font-size="16.6" textLength="190.0" lengthAdjust="spacingAndGlyphs">High-shift m60 | 4185.246</text>
<text xml:space="preserve" x="946.3" y="259.0" font-size="16.6" textLength="206.7" lengthAdjust="spacingAndGlyphs">Sell Hunt TP M60 | 4049.216</text>
</g>
<g clip-path="url(#cs)" shape-rendering="crispEdges">
<line x1="35.5" y1="668" x2="35.5" y2="897" stroke="#000" stroke-width="1" stroke-dasharray="3 3"/>
<line x1="227.5" y1="668" x2="227.5" y2="897" stroke="#000" stroke-width="1" stroke-dasharray="3 3"/>
<line x1="419.5" y1="668" x2="419.5" y2="897" stroke="#000" stroke-width="1" stroke-dasharray="3 3"/>
<line x1="611.5" y1="668" x2="611.5" y2="897" stroke="#000" stroke-width="1" stroke-dasharray="3 3"/>
<line x1="803.5" y1="668" x2="803.5" y2="897" stroke="#000" stroke-width="1" stroke-dasharray="3 3"/>
<line x1="995.5" y1="668" x2="995.5" y2="897" stroke="#000" stroke-width="1" stroke-dasharray="3 3"/>
<line x1="859.5" y1="672" x2="859.5" y2="897" stroke="#C71585" stroke-width="1" stroke-dasharray="9 3 3 3 3 3"/>
<polyline fill="none" stroke="#1E90FF" stroke-width="1" points="2.5,863.0 10.0,866.0 20.0,867.5 27.5,872.0 35.0,880.5 43.8,885.0 51.0,881.0 60.0,872.5 72.5,862.5 87.5,850.0 100.0,838.0 107.5,826.0 122.5,811.0 130.0,802.5 136.0,799.0 145.0,798.0 155.0,800.0 162.5,802.0 171.0,804.0 179.0,801.0 187.5,792.5 196.0,785.5 204.0,788.0 211.0,792.0 219.0,801.0 226.0,807.5 235.0,810.5 245.0,810.5 252.5,809.0 260.0,805.0 267.5,801.0 275.0,799.0 282.5,784.0 291.0,771.0 300.0,760.0 310.0,757.5 320.0,756.0 330.0,754.5 339.0,757.0 347.5,756.0 356.0,760.0 364.0,770.0 372.5,781.0 387.5,795.0 397.5,797.5 405.0,797.0 420.0,792.0 435.0,792.5 442.5,795.0 460.0,795.5 475.0,799.0 480.0,799.4 487.5,800.6 500.6,800.6 505.0,798.1 511.0,796.5 526.0,796.5 533.8,795.2 537.5,794.4 543.8,794.4 545.6,795.4 552.0,795.4 558.0,797.5 567.5,799.4 571.2,800.6 576.2,801.2 580.0,801.2 583.8,799.6 590.0,797.5 593.8,796.5 607.5,796.5 615.6,795.4 631.2,795.4 637.5,796.5 640.0,798.1 655.0,805.0 670.0,805.8 685.0,805.0 694.0,802.0 700.0,796.0 707.5,793.0 715.0,780.0 724.0,766.0 731.0,754.0 740.0,747.5 747.5,742.5 757.5,742.0 770.0,740.5 780.0,740.5 787.5,743.0 795.5,742.5 804.0,730.0 815.0,717.5 827.5,705.0 837.5,696.0 850.0,690.0 860.0,684.5 867.0,683.0 874.0,687.0 881.0,695.0 890.0,706.0 902.5,721.0 915.0,736.0 922.5,740.0 931.0,749.0 939.0,752.0 947.0,750.5"/>
<polyline fill="none" stroke="#FF4500" stroke-width="1" points="2.5,861.0 12.5,862.5 25.0,864.5 35.0,869.0 45.0,872.5 55.0,874.0 67.5,872.5 80.0,868.0 97.5,859.0 112.5,845.0 127.5,832.5 142.5,821.0 155.0,815.0 172.5,810.0 187.5,805.0 200.0,799.0 211.0,797.5 220.0,798.0 230.0,801.0 240.0,804.0 250.0,805.5 262.5,805.0 275.0,803.0 287.5,797.5 300.0,787.5 312.5,777.5 320.0,773.0 332.5,767.5 347.5,764.0 357.5,763.0 367.5,765.0 377.5,770.0 390.0,777.5 405.0,784.5 420.0,787.5 445.0,790.5 470.0,794.0 480.0,795.4 487.5,795.4 488.8,796.5 495.6,796.5 497.0,797.5 511.2,797.5 512.5,796.5 567.5,796.5 568.8,797.5 575.6,797.5 577.0,798.5 585.0,798.5 586.2,797.5 622.5,797.5 623.8,796.5 640.0,796.5 655.0,800.0 672.5,802.5 690.0,802.5 705.0,800.0 717.5,794.0 730.0,782.5 742.5,772.5 755.0,764.0 770.0,756.0 785.0,751.0 795.5,749.0 805.0,744.0 820.0,735.0 835.0,723.0 850.0,712.5 860.0,706.0 870.0,700.5 880.0,699.0 890.0,701.0 900.0,705.0 915.0,714.0 927.5,722.5 939.0,730.5 947.0,734.5"/>
<rect x="2" y="811" width="3" height="3" fill="#556B2F"/>
<rect x="10" y="811" width="3" height="5" fill="#556B2F"/>
<rect x="18" y="811" width="3" height="5" fill="#556B2F"/>
<rect x="26" y="811" width="3" height="9" fill="#556B2F"/>
<rect x="34" y="811" width="3" height="14" fill="#556B2F"/>
<rect x="42" y="811" width="3" height="15" fill="#556B2F"/>
<rect x="50" y="811" width="3" height="8" fill="#556B2F"/>
<rect x="58" y="811" width="3" height="1" fill="#556B2F"/>
<rect x="66" y="805" width="3" height="6" fill="#556B2F"/>
<rect x="74" y="801" width="3" height="10" fill="#556B2F"/>
<rect x="82" y="798" width="3" height="13" fill="#556B2F"/>
<rect x="90" y="795" width="3" height="16" fill="#556B2F"/>
<rect x="98" y="793" width="3" height="18" fill="#556B2F"/>
<rect x="106" y="786" width="3" height="25" fill="#556B2F"/>
<rect x="114" y="784" width="3" height="27" fill="#556B2F"/>
<rect x="122" y="783" width="3" height="28" fill="#556B2F"/>
<rect x="130" y="783" width="3" height="28" fill="#556B2F"/>
<rect x="138" y="786" width="3" height="25" fill="#556B2F"/>
<rect x="146" y="791" width="3" height="20" fill="#556B2F"/>
<rect x="154" y="797" width="3" height="14" fill="#556B2F"/>
<rect x="162" y="801" width="3" height="10" fill="#556B2F"/>
<rect x="170" y="804" width="3" height="7" fill="#556B2F"/>
<rect x="178" y="803" width="3" height="8" fill="#556B2F"/>
<rect x="186" y="798" width="3" height="13" fill="#556B2F"/>
<rect x="194" y="795" width="3" height="16" fill="#556B2F"/>
<rect x="202" y="801" width="3" height="10" fill="#556B2F"/>
<rect x="210" y="806" width="3" height="5" fill="#556B2F"/>
<rect x="218" y="811" width="3" height="5" fill="#556B2F"/>
<rect x="226" y="811" width="3" height="9" fill="#556B2F"/>
<rect x="234" y="811" width="3" height="9" fill="#556B2F"/>
<rect x="242" y="811" width="3" height="8" fill="#556B2F"/>
<rect x="250" y="811" width="3" height="4" fill="#556B2F"/>
<rect x="258" y="811" width="3" height="2" fill="#556B2F"/>
<rect x="266" y="809" width="3" height="2" fill="#556B2F"/>
<rect x="274" y="807" width="3" height="4" fill="#556B2F"/>
<rect x="282" y="795" width="3" height="16" fill="#556B2F"/>
<rect x="290" y="788" width="3" height="23" fill="#556B2F"/>
<rect x="298" y="785" width="3" height="26" fill="#556B2F"/>
<rect x="306" y="788" width="3" height="23" fill="#556B2F"/>
<rect x="314" y="792" width="3" height="19" fill="#556B2F"/>
<rect x="322" y="794" width="3" height="17" fill="#556B2F"/>
<rect x="330" y="798" width="3" height="13" fill="#556B2F"/>
<rect x="338" y="802" width="3" height="9" fill="#556B2F"/>
<rect x="346" y="803" width="3" height="8" fill="#556B2F"/>
<rect x="354" y="807" width="3" height="4" fill="#556B2F"/>
<rect x="362" y="811" width="3" height="6" fill="#556B2F"/>
<rect x="370" y="811" width="3" height="14" fill="#556B2F"/>
<rect x="378" y="811" width="3" height="18" fill="#556B2F"/>
<rect x="386" y="811" width="3" height="20" fill="#556B2F"/>
<rect x="394" y="811" width="3" height="18" fill="#556B2F"/>
<rect x="402" y="811" width="3" height="14" fill="#556B2F"/>
<rect x="410" y="811" width="3" height="10" fill="#556B2F"/>
<rect x="418" y="811" width="3" height="7" fill="#556B2F"/>
<rect x="426" y="811" width="3" height="5" fill="#556B2F"/>
<rect x="434" y="811" width="3" height="4" fill="#556B2F"/>
<rect x="442" y="811" width="3" height="6" fill="#556B2F"/>
<rect x="450" y="811" width="3" height="5" fill="#556B2F"/>
<rect x="458" y="811" width="3" height="4" fill="#556B2F"/>
<rect x="466" y="811" width="3" height="6" fill="#556B2F"/>
<rect x="474" y="811" width="3" height="6" fill="#556B2F"/>
<rect x="482" y="811" width="3" height="5" fill="#556B2F"/>
<rect x="490" y="811" width="3" height="5" fill="#556B2F"/>
<rect x="498" y="811" width="3" height="5" fill="#556B2F"/>
<rect x="506" y="811" width="3" height="1" fill="#556B2F"/>
<rect x="514" y="811" width="3" height="1" fill="#556B2F"/>
<rect x="522" y="811" width="3" height="1" fill="#556B2F"/>
<rect x="530" y="811" width="3" height="1" fill="#556B2F"/>
<rect x="538" y="810" width="3" height="1" fill="#556B2F"/>
<rect x="546" y="810" width="3" height="1" fill="#556B2F"/>
<rect x="554" y="811" width="3" height="1" fill="#556B2F"/>
<rect x="562" y="811" width="3" height="3" fill="#556B2F"/>
<rect x="570" y="811" width="3" height="4" fill="#556B2F"/>
<rect x="578" y="811" width="3" height="5" fill="#556B2F"/>
<rect x="586" y="811" width="3" height="1" fill="#556B2F"/>
<rect x="594" y="810" width="3" height="1" fill="#556B2F"/>
<rect x="602" y="811" width="3" height="1" fill="#556B2F"/>
<rect x="610" y="810" width="3" height="1" fill="#556B2F"/>
<rect x="618" y="809" width="3" height="2" fill="#556B2F"/>
<rect x="626" y="810" width="3" height="1" fill="#556B2F"/>
<rect x="634" y="811" width="3" height="1" fill="#556B2F"/>
<rect x="642" y="811" width="3" height="4" fill="#556B2F"/>
<rect x="650" y="811" width="3" height="7" fill="#556B2F"/>
<rect x="658" y="811" width="3" height="6" fill="#556B2F"/>
<rect x="666" y="811" width="3" height="6" fill="#556B2F"/>
<rect x="674" y="811" width="3" height="5" fill="#556B2F"/>
<rect x="682" y="811" width="3" height="4" fill="#556B2F"/>
<rect x="690" y="811" width="3" height="2" fill="#556B2F"/>
<rect x="698" y="807" width="3" height="4" fill="#556B2F"/>
<rect x="706" y="805" width="3" height="6" fill="#556B2F"/>
<rect x="714" y="796" width="3" height="15" fill="#556B2F"/>
<rect x="722" y="788" width="3" height="23" fill="#556B2F"/>
<rect x="730" y="783" width="3" height="28" fill="#556B2F"/>
<rect x="738" y="783" width="3" height="28" fill="#556B2F"/>
<rect x="746" y="784" width="3" height="27" fill="#556B2F"/>
<rect x="754" y="789" width="3" height="22" fill="#556B2F"/>
<rect x="762" y="794" width="3" height="17" fill="#556B2F"/>
<rect x="770" y="796" width="3" height="15" fill="#556B2F"/>
<rect x="778" y="799" width="3" height="12" fill="#556B2F"/>
<rect x="786" y="804" width="3" height="7" fill="#556B2F"/>
<rect x="794" y="805" width="3" height="6" fill="#556B2F"/>
<rect x="802" y="796" width="3" height="15" fill="#556B2F"/>
<rect x="810" y="792" width="3" height="19" fill="#556B2F"/>
<rect x="818" y="790" width="3" height="21" fill="#556B2F"/>
<rect x="826" y="788" width="3" height="23" fill="#556B2F"/>
<rect x="834" y="786" width="3" height="25" fill="#556B2F"/>
<rect x="842" y="788" width="3" height="23" fill="#556B2F"/>
<rect x="850" y="790" width="3" height="21" fill="#556B2F"/>
<rect x="858" y="790" width="3" height="21" fill="#556B2F"/>
<rect x="866" y="792" width="3" height="19" fill="#556B2F"/>
<rect x="874" y="800" width="3" height="11" fill="#556B2F"/>
<rect x="882" y="811" width="3" height="1" fill="#556B2F"/>
<rect x="890" y="811" width="3" height="10" fill="#556B2F"/>
<rect x="898" y="811" width="3" height="15" fill="#556B2F"/>
<rect x="906" y="811" width="3" height="19" fill="#556B2F"/>
<rect x="914" y="811" width="3" height="24" fill="#556B2F"/>
<rect x="922" y="811" width="3" height="22" fill="#556B2F"/>
<rect x="930" y="811" width="3" height="25" fill="#556B2F"/>
<rect x="938" y="811" width="3" height="23" fill="#556B2F"/>
<rect x="946" y="811" width="3" height="17" fill="#556B2F"/>
</g>
<text xml:space="preserve" x="7.0" y="687.0" font-size="12" textLength="231.0" lengthAdjust="spacingAndGlyphs">MACD(12,26,9) 30.1583 37.8390 -7.6807</text>
<g shape-rendering="crispEdges" fill="#000">
<rect x="2" y="2" width="1208" height="1"/>
<rect x="2" y="2" width="1" height="895"/>
<rect x="1209" y="2" width="1" height="895"/>
<rect x="2" y="669" width="1208" height="1"/>
<rect x="2" y="670" width="1207" height="1" fill="#C0C0C0"/>
<rect x="2" y="671" width="1208" height="1"/>
<rect x="35" y="670" width="1" height="1"/>
<rect x="227" y="670" width="1" height="1"/>
<rect x="419" y="670" width="1" height="1"/>
<rect x="611" y="670" width="1" height="1"/>
<rect x="803" y="670" width="1" height="1"/>
<rect x="995" y="670" width="1" height="1"/>
<rect x="2" y="896" width="1208" height="1"/>
<rect x="1210" y="13" width="2" height="1"/>
<rect x="1210" y="62" width="2" height="1"/>
<rect x="1210" y="111" width="2" height="1"/>
<rect x="1210" y="160" width="2" height="1"/>
<rect x="1210" y="209" width="2" height="1"/>
<rect x="1210" y="258" width="2" height="1"/>
<rect x="1210" y="307" width="2" height="1"/>
<rect x="1210" y="356" width="2" height="1"/>
<rect x="1210" y="405" width="2" height="1"/>
<rect x="1210" y="454" width="2" height="1"/>
<rect x="1210" y="503" width="2" height="1"/>
<rect x="1210" y="552" width="2" height="1"/>
<rect x="1210" y="601" width="2" height="1"/>
<rect x="1210" y="650" width="2" height="1"/>
<rect x="1210" y="811" width="2" height="1"/>
<rect x="1210" y="888" width="2" height="1"/>
<rect x="1210" y="673" width="1" height="1"/>
<rect x="3" y="897" width="1" height="3"/>
<rect x="99" y="897" width="1" height="3"/>
<rect x="195" y="897" width="1" height="3"/>
<rect x="291" y="897" width="1" height="3"/>
<rect x="387" y="897" width="1" height="3"/>
<rect x="483" y="897" width="1" height="3"/>
<rect x="579" y="897" width="1" height="3"/>
<rect x="675" y="897" width="1" height="3"/>
<rect x="771" y="897" width="1" height="3"/>
<rect x="867" y="897" width="1" height="3"/>
</g>
<text xml:space="preserve" x="1216.0" y="17.5" font-size="12" textLength="52.0" lengthAdjust="spacingAndGlyphs">4270.330</text>
<text xml:space="preserve" x="1216.0" y="66.5" font-size="12" textLength="52.0" lengthAdjust="spacingAndGlyphs">4227.700</text>
<text xml:space="preserve" x="1216.0" y="115.5" font-size="12" textLength="52.0" lengthAdjust="spacingAndGlyphs">4184.200</text>
<text xml:space="preserve" x="1216.0" y="164.5" font-size="12" textLength="52.0" lengthAdjust="spacingAndGlyphs">4141.570</text>
<text xml:space="preserve" x="1216.0" y="213.5" font-size="12" textLength="52.0" lengthAdjust="spacingAndGlyphs">4098.070</text>
<text xml:space="preserve" x="1216.0" y="262.5" font-size="12" textLength="52.0" lengthAdjust="spacingAndGlyphs">4055.440</text>
<text xml:space="preserve" x="1216.0" y="311.5" font-size="12" textLength="52.0" lengthAdjust="spacingAndGlyphs">4011.940</text>
<text xml:space="preserve" x="1216.0" y="360.5" font-size="12" textLength="52.0" lengthAdjust="spacingAndGlyphs">3969.310</text>
<text xml:space="preserve" x="1216.0" y="409.5" font-size="12" textLength="52.0" lengthAdjust="spacingAndGlyphs">3926.680</text>
<text xml:space="preserve" x="1216.0" y="458.5" font-size="12" textLength="52.0" lengthAdjust="spacingAndGlyphs">3883.180</text>
<text xml:space="preserve" x="1216.0" y="507.5" font-size="12" textLength="52.0" lengthAdjust="spacingAndGlyphs">3840.550</text>
<text xml:space="preserve" x="1216.0" y="556.5" font-size="12" textLength="52.0" lengthAdjust="spacingAndGlyphs">3797.050</text>
<text xml:space="preserve" x="1216.0" y="605.5" font-size="12" textLength="52.0" lengthAdjust="spacingAndGlyphs">3754.420</text>
<text xml:space="preserve" x="1216.0" y="654.5" font-size="12" textLength="52.0" lengthAdjust="spacingAndGlyphs">3711.790</text>
<text xml:space="preserve" x="1213.0" y="685.0" font-size="12" textLength="45.5" lengthAdjust="spacingAndGlyphs">68.6172</text>
<text xml:space="preserve" x="1213.0" y="816.0" font-size="12" textLength="24.5" lengthAdjust="spacingAndGlyphs">0.00</text>
<text xml:space="preserve" x="1213.0" y="893.0" font-size="12" textLength="49.5" lengthAdjust="spacingAndGlyphs">-41.6475</text>
<rect x="1211" y="358" width="63" height="14" fill="#0000FF" shape-rendering="crispEdges"/>
<text xml:space="preserve" x="1216.0" y="369.5" font-size="12" textLength="52.0" lengthAdjust="spacingAndGlyphs" style="fill:#FFF">3962.650</text>
<rect x="1211" y="81" width="63" height="14" fill="#000" shape-rendering="crispEdges"/>
<text xml:space="preserve" x="1216.0" y="93.0" font-size="12" textLength="52.0" lengthAdjust="spacingAndGlyphs" style="fill:#FFF">4204.658</text>
<text xml:space="preserve" x="2.3" y="912.0" font-size="12" textLength="69.5" lengthAdjust="spacingAndGlyphs">22 Oct 2025</text>
<text xml:space="preserve" x="98.3" y="912.0" font-size="12" textLength="73.0" lengthAdjust="spacingAndGlyphs">23 Oct 08:00</text>
<text xml:space="preserve" x="194.3" y="912.0" font-size="12" textLength="73.0" lengthAdjust="spacingAndGlyphs">23 Oct 20:00</text>
<text xml:space="preserve" x="290.3" y="912.0" font-size="12" textLength="73.0" lengthAdjust="spacingAndGlyphs">24 Oct 08:00</text>
<text xml:space="preserve" x="386.3" y="912.0" font-size="12" textLength="73.0" lengthAdjust="spacingAndGlyphs">24 Oct 20:00</text>
<text xml:space="preserve" x="482.3" y="912.0" font-size="12" textLength="73.0" lengthAdjust="spacingAndGlyphs">25 Oct 08:00</text>
<text xml:space="preserve" x="578.3" y="912.0" font-size="12" textLength="73.0" lengthAdjust="spacingAndGlyphs">25 Oct 20:00</text>
<text xml:space="preserve" x="674.3" y="912.0" font-size="12" textLength="73.0" lengthAdjust="spacingAndGlyphs">26 Oct 08:00</text>
<text xml:space="preserve" x="770.3" y="912.0" font-size="12" textLength="73.0" lengthAdjust="spacingAndGlyphs">26 Oct 20:00</text>
<text xml:space="preserve" x="866.3" y="912.0" font-size="12" textLength="73.0" lengthAdjust="spacingAndGlyphs">27 Oct 08:00</text>
</svg></body></html>
